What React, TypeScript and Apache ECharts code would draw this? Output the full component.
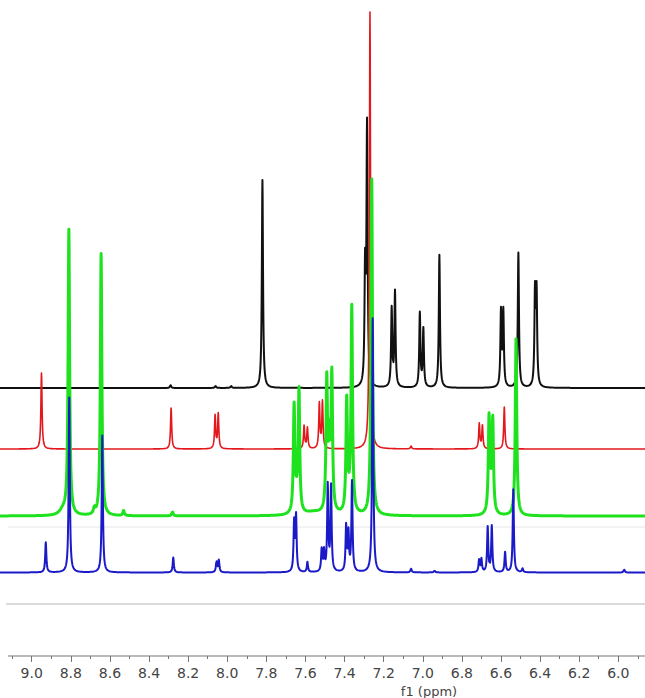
import { useEffect, useRef } from "react";
import * as echarts from "echarts";

// Peak tables: [ppm, intensity (arbitrary units)]
const blackPeaks: number[][] = [
  [8.29, 3], [8.06, 2], [7.98, 2],
  [7.82, 208],
  [7.295, 112], [7.285, 258],
  [7.159, 78], [7.142, 95],
  [7.015, 74], [6.997, 58],
  [6.915, 133],
  [6.6, 75], [6.588, 75],
  [6.511, 135],
  [6.426, 92], [6.418, 92],
];

const redPeaks: number[][] = [
  [8.95, 76],
  [8.287, 41],
  [8.062, 33], [8.046, 35],
  [7.607, 23], [7.59, 21],
  [7.529, 45], [7.513, 47],
  [7.27, 437],
  [7.06, 3],
  [6.711, 25], [6.695, 23],
  [6.583, 42],
];

const greenPeaks: number[][] = [
  [8.81, 285], [8.68, 6], [8.645, 262], [8.53, 5], [8.28, 4],
  [7.658, 106], [7.633, 121],
  [7.491, 128], [7.478, 55], [7.465, 133],
  [7.389, 110], [7.363, 203],
  [7.261, 336],
  [6.661, 92], [6.642, 90],
  [6.523, 177],
];

// broad multiplet feet of the green trace: [ppm, intensity, half-width]
const greenFeet: number[][] = [
  [8.84, 5, 0.02], [7.645, 12, 0.008], [7.56, 3, 0.05], [7.478, 12, 0.01],
  [7.375, 10, 0.01], [6.652, 14, 0.008],
];

const bluePeaks: number[][] = [
  [8.928, 30],
  [8.808, 175],
  [8.639, 137],
  [8.276, 15],
  [8.055, 11], [8.043, 12],
  [7.658, 49], [7.648, 55],
  [7.59, 10],
  [7.517, 22], [7.505, 20],
  [7.486, 86], [7.469, 85],
  [7.392, 45], [7.38, 38], [7.362, 90],
  [7.256, 254],
  [7.06, 4], [6.94, 2],
  [6.712, 12], [6.7, 13],
  [6.668, 45], [6.647, 46],
  [6.579, 20],
  [6.537, 83],
  [6.49, 4],
  [5.97, 3],
];

const ppmMin = 5.8;
const ppmMax = 9.2;

function spectrum(peaks: number[][], feet: number[][], hwhm: number, offset: number) {
  const xs: number[] = [];
  const step = 0.001;
  const n = Math.round((ppmMax - ppmMin) / step);
  for (let i = 0; i <= n; i++) xs.push(+(ppmMin + i * step).toFixed(4));
  peaks.forEach((p) => xs.push(p[0]));
  xs.sort((a, b) => a - b);
  return xs.map((x) => {
    let y = 0;
    for (const [p, h] of peaks) {
      const d = x - p;
      y += (h * hwhm * hwhm) / (d * d + hwhm * hwhm);
    }
    for (const [p, h, w] of feet) {
      const d = x - p;
      y += (h * w * w) / (d * d + w * w);
    }
    return [x, offset + y];
  });
}

export default function App() {
  const ref = useRef<HTMLDivElement>(null);
  useEffect(() => {
    if (!ref.current) return;
    const chart = echarts.init(ref.current, undefined, { renderer: "svg" });
    const mk = (name: string, data: number[][], color: string, width: number) => ({
      name,
      type: "line",
      data,
      showSymbol: false,
      symbol: "none",
      silent: true,
      clip: true,
      lineStyle: { color, width, join: "round" },
    });
    chart.setOption({
      animation: false,
      backgroundColor: "#ffffff",
      grid: { left: -7.4, right: -12.4, top: 0, bottom: 42, outerBoundsMode: "none", containLabel: false },
      xAxis: {
        type: "value",
        inverse: true,
        min: ppmMin,
        max: ppmMax,
        interval: 0.2,
        axisLine: { show: false },
        axisTick: { show: true, length: 6, lineStyle: { color: "#777", width: 1 } },
        minorTick: { show: true, splitNumber: 2, length: 3, lineStyle: { color: "#777", width: 1 } },
        splitLine: { show: false },
        axisLabel: {
          showMinLabel: false,
          showMaxLabel: false,
          margin: 10,
          fontFamily: "DejaVu Sans",
          fontSize: 14,
          color: "#444",
          formatter: (v: number) => v.toFixed(1),
        },
      },
      yAxis: {
        type: "value",
        min: 0,
        max: 656,
        show: false,
      },
      graphic: [
        { type: "line", shape: { x1: 8, y1: 656, x2: 645, y2: 656 }, style: { stroke: "#777", lineWidth: 1.2 }, z: 10 },
        { type: "line", shape: { x1: 6, y1: 604, x2: 645, y2: 604 }, style: { stroke: "#cfcfcf", lineWidth: 1.5 }, z: 0 },
        { type: "line", shape: { x1: 8, y1: 527, x2: 645, y2: 527 }, style: { stroke: "#e6e6e6", lineWidth: 1 }, z: 0 },
        {
          type: "text",
          x: 429,
          y: 691,
          style: { text: "f1 (ppm)", fontFamily: "DejaVu Sans", fontSize: 13, fill: "#444", align: "center", verticalAlign: "middle" },
        },
      ],
      series: [
        mk("black", spectrum(blackPeaks, [], 0.0035, 268), "#111111", 2),
        mk("red", spectrum(redPeaks, [], 0.0035, 207), "#e3181c", 1.6),
        mk("green", spectrum(greenPeaks, greenFeet, 0.0045, 140), "#1fe21f", 3),
        mk("blue", spectrum(bluePeaks, [], 0.0035, 83.5), "#1a1ac8", 2),
      ],
    });
    return () => chart.dispose();
  }, []);
  return <div ref={ref} style={{ position: "fixed", left: 0, top: 0, width: 645, height: 698 }} />;
}
